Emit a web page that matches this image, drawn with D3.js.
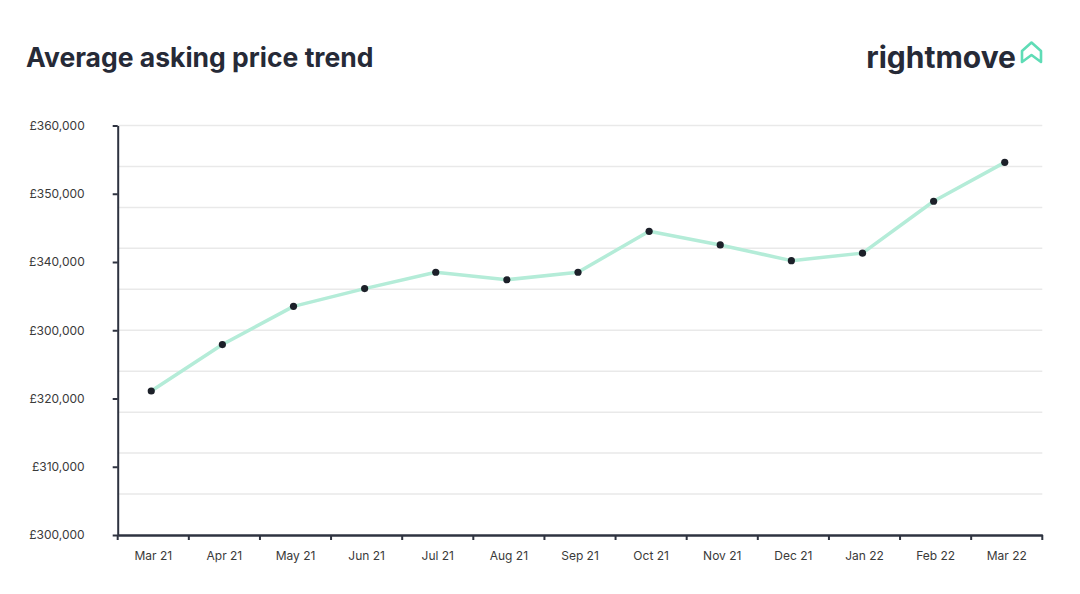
<!DOCTYPE html>
<html>
<head>
<meta charset="utf-8">
<script src="https://cdn.jsdelivr.net/npm/d3@7"></script>
<style>
  body { margin: 0; background: #fff; }
  svg { display: block; }
</style>
</head>
<body>
<div id="chart"></div>
<script>
// data
const months = ['Mar 21', 'Apr 21', 'May 21', 'Jun 21', 'Jul 21', 'Aug 21', 'Sep 21',
    'Oct 21', 'Nov 21', 'Dec 21', 'Jan 22', 'Feb 22', 'Mar 22'];
const askingPrice = [321100, 327900, 333500, 336100, 338500, 337400, 338500,
    344500, 342500, 340200, 341300, 348900, 354600];
const yTickValues = [300000, 310000, 320000, 330000, 340000, 350000, 360000];
// labels as printed on the original (the 330k one reads £300,000)
const yTickLabels = ['£300,000', '£310,000', '£320,000', '£300,000', '£340,000', '£350,000', '£360,000'];
const gridValues = [306000, 312000, 318000, 324000, 330000, 336000, 342000, 348000, 354000, 360000];

const width = 1080;
const height = 594;
const margin = { top: 125.5, right: 37.7, bottom: 59, left: 117.7 };
const innerWidth = width - margin.left - margin.right;
const innerHeight = height - margin.top - margin.bottom;

const fontFamily = 'Inter, "Open Sans", sans-serif';
const darkColor = '#262a37';
const axisColor = '#2e3340';
const lineColor = '#b4ecd8';
const gridColor = '#e9e9e9';

const svg = d3.select('#chart')
    .append('svg')
    .attr('width', width)
    .attr('height', height);

// title + logo
svg.append('text')
    .attr('x', 26)
    .attr('y', 67)
    .style('font-family', fontFamily)
    .style('font-weight', 700)
    .style('font-size', '26.5px')
    .attr('fill', darkColor)
    .text('Average asking price trend');

svg.append('text')
    .attr('x', 1016)
    .attr('y', 68)
    .attr('text-anchor', 'end')
    .style('font-family', fontFamily)
    .style('font-weight', 700)
    .style('font-size', '30px')
    .attr('fill', darkColor)
    .text('rightmove');

svg.append('path')
    .attr('d', 'M1022,62 L1022,51 L1031.5,42.5 L1041,51 L1041,62 L1031.5,55 Z')
    .attr('fill', 'none')
    .attr('stroke', '#5fdcb6')
    .attr('stroke-width', 2.6)
    .attr('stroke-linejoin', 'round');

const g = svg.append('g')
    .attr('transform', `translate(${margin.left},${margin.top})`);

const xScale = d3.scaleBand()
    .domain(months)
    .range([0, innerWidth]);
const yScale = d3.scaleLinear()
    .domain([300000, 360000])
    .range([innerHeight, 0]);

// gridlines
g.selectAll('.grid')
    .data(gridValues)
    .join('line')
    .attr('class', 'grid')
    .attr('x1', 0)
    .attr('x2', innerWidth)
    .attr('y1', d => yScale(d))
    .attr('y2', d => yScale(d))
    .attr('stroke', gridColor)
    .attr('stroke-width', 1.5);

// y axis
const yAxis = g.append('g')
    .call(d3.axisLeft(yScale)
        .tickValues(yTickValues)
        .tickFormat((d, i) => yTickLabels[i])
        .tickSize(5)
        .tickSizeOuter(0)
        .tickPadding(28));
yAxis.select('.domain').attr('stroke', axisColor).attr('stroke-width', 2);
yAxis.selectAll('.tick line').attr('stroke', axisColor).attr('stroke-width', 2);
yAxis.selectAll('.tick text')
    .style('font-family', fontFamily)
    .style('font-size', '12px')
    .attr('fill', '#3a3a3a');

// x axis: labels in the middle of each band, ticks on the band edges
const xAxis = g.append('g')
    .attr('transform', `translate(0,${innerHeight})`)
    .call(d3.axisBottom(xScale).tickSize(0).tickPadding(16));
xAxis.select('.domain').attr('stroke', axisColor).attr('stroke-width', 2.5);
xAxis.selectAll('.tick text')
    .style('font-family', fontFamily)
    .style('font-size', '12px')
    .attr('fill', '#3a3a3a');

xAxis.selectAll('.edge')
    .data(months.map(m => xScale(m)).concat([innerWidth]))
    .join('line')
    .attr('class', 'edge')
    .attr('x1', d => d)
    .attr('x2', d => d)
    .attr('y1', 0)
    .attr('y2', 5)
    .attr('stroke', axisColor)
    .attr('stroke-width', 2);

// series
const points = months.map((m, i) => ({ month: m, value: askingPrice[i] }));
const xPos = d => xScale(d.month) + xScale.bandwidth() / 2 - 2;

g.append('path')
    .datum(points)
    .attr('fill', 'none')
    .attr('stroke', lineColor)
    .attr('stroke-width', 3.5)
    .attr('stroke-linejoin', 'round')
    .attr('d', d3.line().x(xPos).y(d => yScale(d.value)));

g.selectAll('.dot')
    .data(points)
    .join('circle')
    .attr('class', 'dot')
    .attr('cx', xPos)
    .attr('cy', d => yScale(d.value))
    .attr('r', 3.6)
    .attr('fill', '#1c2029');
</script>
</body>
</html>
